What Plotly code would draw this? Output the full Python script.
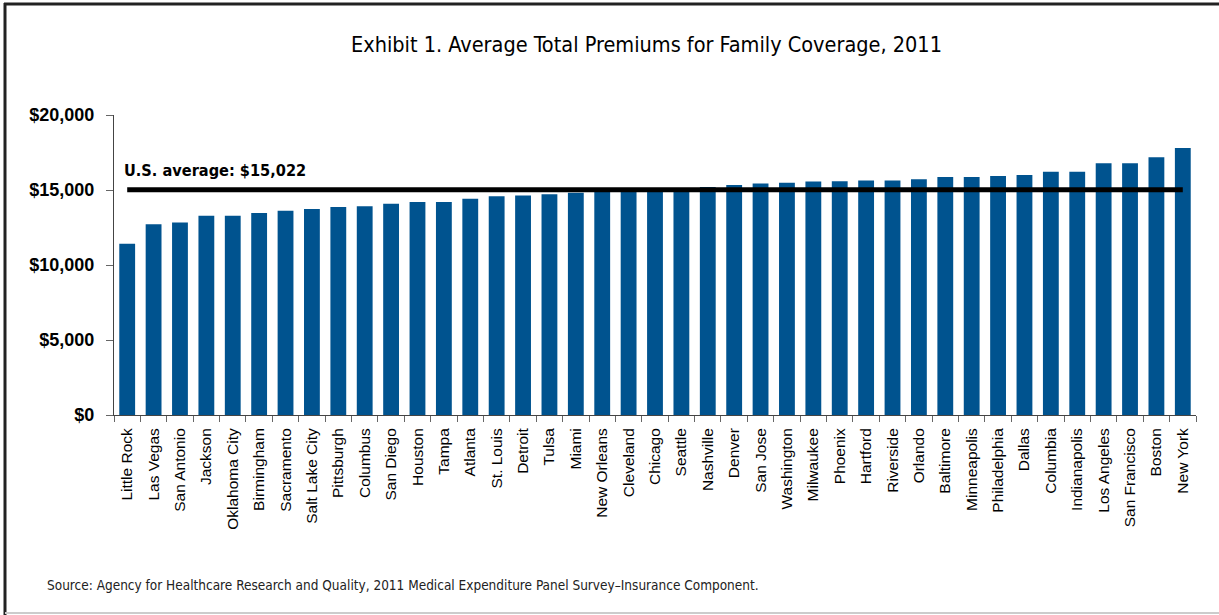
import plotly.graph_objects as go

cities = ["Little Rock", "Las Vegas", "San Antonio", "Jackson", "Oklahoma City", "Birmingham",
          "Sacramento", "Salt Lake City", "Pittsburgh", "Columbus", "San Diego", "Houston", "Tampa",
          "Atlanta", "St. Louis", "Detroit", "Tulsa", "Miami", "New Orleans", "Cleveland", "Chicago",
          "Seattle", "Nashville", "Denver", "San Jose", "Washington", "Milwaukee", "Phoenix",
          "Hartford", "Riverside", "Orlando", "Baltimore", "Minneapolis", "Philadelphia", "Dallas",
          "Columbia", "Indianapolis", "Los Angeles", "San Francisco", "Boston", "New York"]
premiums = [11420, 12710, 12840, 13290, 13290, 13470, 13620, 13730, 13870, 13910, 14090, 14200,
            14200, 14420, 14580, 14640, 14710, 14820, 14960, 14990, 15010, 15050, 15200, 15330,
            15440, 15490, 15560, 15590, 15640, 15640, 15710, 15870, 15870, 15930, 16000, 16220,
            16220, 16780, 16780, 17180, 17800]
us_average = 15022
y_ticks = [0, 5000, 10000, 15000, 20000]
y_tick_labels = ["$0", "$5,000", "$10,000", "$15,000", "$20,000"]

W, H = 1219, 615
L, R, T, B = 114, 23, 115, 200
pw, ph = W - L - R, H - T - B

def px(x):
    return (x - L) / pw

def py(y):
    return (H - B - y) / ph

fig = go.Figure()
fig.add_trace(go.Bar(x=cities, y=premiums, marker=dict(color="#00538F", line=dict(width=0)),
                     showlegend=False))
fig.add_trace(go.Scatter(x=cities, y=[us_average] * len(cities), mode="lines",
                         line=dict(color="black", width=5), showlegend=False))

cond = "DejaVu Sans Condensed, Liberation Sans Narrow, sans-serif"
fig.update_layout(
    width=W, height=H,
    margin=dict(l=L, r=R, t=T, b=B),
    paper_bgcolor="white", plot_bgcolor="white",
    bargap=0.4,
    font=dict(family="Liberation Sans, Arial, sans-serif", color="black"),
    xaxis=dict(type="category", showline=True, linecolor="#444", linewidth=1,
               ticks="outside", ticklen=6, tickcolor="#666", tickson="boundaries",
               tickangle=-90, tickfont=dict(size=15.5, family="Liberation Sans, Arial"),
               showgrid=False, range=[-0.5, len(cities) - 0.5], ticklabelstandoff=6),
    yaxis=dict(range=[0, 20000], tickvals=y_ticks, ticktext=y_tick_labels,
               showline=True, linecolor="#444", linewidth=1, ticks="outside", ticklen=7,
               tickcolor="#666", showgrid=False, zeroline=False,
               tickfont=dict(size=18, family="Liberation Sans, Arial", weight="bold"),
               ticklabelstandoff=8),
)

fig.add_annotation(text="Exhibit 1. Average Total Premiums for Family Coverage, 2011",
                   xref="paper", yref="paper", x=px(646), y=py(44), showarrow=False,
                   xanchor="center", yanchor="middle",
                   font=dict(size=21.5, family=cond, color="black"))
fig.add_annotation(text="U.S. average: $15,022", xref="paper", yref="paper",
                   x=px(122), y=py(170), showarrow=False, xanchor="left", yanchor="middle",
                   font=dict(size=16.2, family=cond, color="black", weight="bold"))
fig.add_annotation(text="Source: Agency for Healthcare Research and Quality, 2011 Medical Expenditure Panel Survey\u2013Insurance Component.",
                   xref="paper", yref="paper", x=px(45), y=py(585), showarrow=False,
                   xanchor="left", yanchor="middle",
                   font=dict(size=13.5, family=cond, color="#222"))

# frame
fig.add_shape(type="line", xref="paper", yref="paper", x0=px(4), x1=px(1219), y0=py(4), y1=py(4),
              line=dict(color="#222", width=3))
fig.add_shape(type="line", xref="paper", yref="paper", x0=px(5), x1=px(5), y0=py(3), y1=py(615),
              line=dict(color="#222", width=3))
fig.add_shape(type="line", xref="paper", yref="paper", x0=px(5), x1=px(1219), y0=py(613), y1=py(613),
              line=dict(color="#ccc", width=2))

fig.write_html("out.html", config={"displayModeBar": False},
               post_script="document.body.style.margin='0';document.body.style.overflow='hidden';")
